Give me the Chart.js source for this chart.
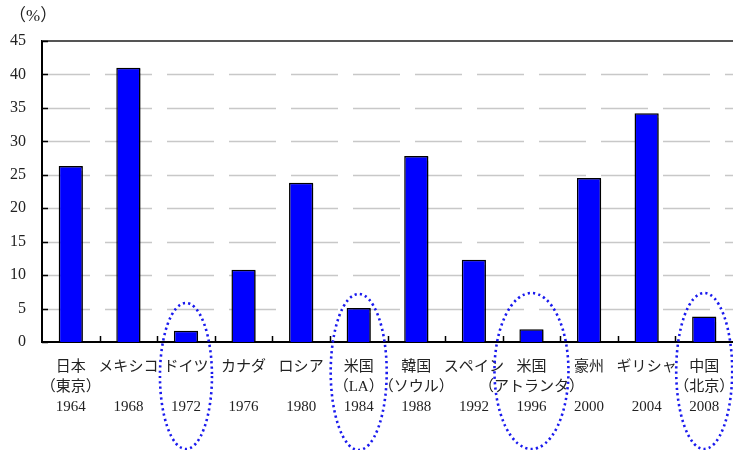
<!DOCTYPE html>
<html>
<head>
<meta charset="utf-8">
<script src="https://cdn.jsdelivr.net/npm/chart.js@4/dist/chart.umd.min.js"></script>
<style>
  html, body { margin: 0; padding: 0; background: #fff; }
  #wrap { width: 733px; height: 450px; }
</style>
</head>
<body>
<div id="wrap"><canvas id="c" width="733" height="450"></canvas></div>
<script>
// Host countries, host cities and Olympic years
const countries = ['日本', 'メキシコ', 'ドイツ', 'カナダ', 'ロシア', '米国', '韓国', 'スペイン', '米国', '豪州', 'ギリシャ', '中国'];
const cities = ['（東京）', '', '', '', '', '（LA）', '（ソウル）', '', '（アトランタ）', '', '', '（北京）'];
const years = ['1964', '1968', '1972', '1976', '1980', '1984', '1988', '1992', '1996', '2000', '2004', '2008'];
// Percentage per host (%)
const values = [26.3, 41.0, 1.7, 10.8, 23.8, 5.1, 27.8, 12.3, 1.9, 24.5, 34.2, 3.8];
// Y-axis ticks
const yTicks = [0, 5, 10, 15, 20, 25, 30, 35, 40, 45];
// Columns circled with a dotted ring
const circled = ['1972', '1984', '1996', '2008'];

const labels = years.map((y, i) => [countries[i], cities[i], y]);
const FONT = "'Liberation Serif', 'Noto Sans CJK JP', serif";

// Dashed horizontal grid lines
const gridPlugin = {
  id: 'dashGrid',
  beforeDatasetsDraw(chart) {
    const { ctx, chartArea: a, scales: { y } } = chart;
    ctx.save();
    ctx.strokeStyle = '#c8c8c8';
    ctx.lineWidth = 1.5;
    ctx.setLineDash([47, 15]);
    yTicks.forEach(v => {
      if (v === 0 || v === 45) return;
      const py = Math.round(y.getPixelForValue(v)) + 0.5;
      ctx.beginPath();
      ctx.moveTo(a.left + 1, py);
      ctx.lineTo(a.right, py);
      ctx.stroke();
    });
    ctx.restore();
  }
};

// Inner tick marks, solid top border and "(%)" unit label
const framePlugin = {
  id: 'frame',
  afterDraw(chart) {
    const { ctx, chartArea: a, scales: { x, y } } = chart;
    ctx.save();
    ctx.strokeStyle = '#555';
    ctx.lineWidth = 2;
    ctx.beginPath();
    ctx.moveTo(a.left, a.top);
    ctx.lineTo(a.right, a.top);
    ctx.stroke();

    ctx.strokeStyle = '#000';
    ctx.lineWidth = 1.5;
    ctx.beginPath();
    yTicks.forEach(v => {
      const py = Math.round(y.getPixelForValue(v)) + 0.5;
      ctx.moveTo(a.left, py);
      ctx.lineTo(a.left + 6, py);
    });
    for (let i = 1; i < years.length; i++) {
      const px = Math.round((x.getPixelForValue(i - 1) + x.getPixelForValue(i)) / 2) + 0.5;
      ctx.moveTo(px, a.bottom);
      ctx.lineTo(px, a.bottom - 6);
    }
    ctx.stroke();

    ctx.fillStyle = '#222';
    ctx.font = "17px " + FONT;
    ctx.textAlign = 'left';
    ctx.textBaseline = 'middle';
    ctx.fillText('（%）', 9, 17);
    ctx.restore();
  }
};

// Dotted ellipses around selected columns
const ringPlugin = {
  id: 'rings',
  afterDraw(chart, args, opts) {
    const { ctx, scales: { x } } = chart;
    ctx.save();
    ctx.strokeStyle = '#1a1aee';
    ctx.lineWidth = 2.6;
    ctx.setLineDash([2.2, 3.2]);
    circled.forEach((yr, k) => {
      const i = years.indexOf(yr);
      const cx = x.getPixelForValue(i);
      ctx.beginPath();
      ctx.ellipse(cx, opts.cy[k], opts.rx[k], opts.ry[k], 0, 0, Math.PI * 2);
      ctx.stroke();
    });
    ctx.restore();
  }
};

// Slight drop shadow behind the bars
const shadowPlugin = {
  id: 'barShadow',
  beforeDatasetDraw(chart) {
    const ctx = chart.ctx;
    ctx.save();
    ctx.shadowColor = 'rgba(0,0,0,0.35)';
    ctx.shadowOffsetX = 2;
    ctx.shadowOffsetY = 1;
    ctx.shadowBlur = 1;
  },
  afterDatasetDraw(chart) {
    chart.ctx.restore();
  }
};

new Chart(document.getElementById('c'), {
  type: 'bar',
  data: {
    labels,
    datasets: [{
      data: values,
      backgroundColor: '#0000ff',
      borderColor: '#000',
      borderWidth: 1.5,
      categoryPercentage: 1,
      barPercentage: 0.42
    }]
  },
  options: {
    responsive: false,
    animation: false,
    devicePixelRatio: 1,
    layout: { padding: { top: 41, right: 0, bottom: 0, left: 0 } },
    plugins: {
      legend: { display: false },
      tooltip: { enabled: false },
      rings: {
        cx: null,
        cy: [376, 372, 371, 371],
        rx: [26, 28, 37, 28],
        ry: [73, 78, 78, 78]
      }
    },
    scales: {
      x: {
        offset: true,
        grid: { display: false, drawTicks: false },
        border: { display: true, color: '#000', width: 2 },
        ticks: {
          color: '#222',
          font: { family: FONT, size: 15, lineHeight: 1.33 },
          padding: 15,
          maxRotation: 0,
          autoSkip: false
        },
        afterFit(s) {
          s.height = 108;
          s.paddingLeft = 0;
          s.paddingRight = 0;
        }
      },
      y: {
        min: 0,
        max: 45,
        afterBuildTicks(s) { s.ticks = yTicks.map(v => ({ value: v })); },
        grid: { display: false, drawTicks: false },
        border: { display: true, color: '#000', width: 2 },
        ticks: {
          color: '#222',
          font: { family: FONT, size: 16 },
          padding: 16
        },
        afterFit(s) {
          s.width = 42;
          s.paddingTop = 0;
          s.paddingBottom = 0;
        }
      }
    }
  },
  plugins: [shadowPlugin, gridPlugin, framePlugin, ringPlugin]
});
</script>
</body>
</html>
